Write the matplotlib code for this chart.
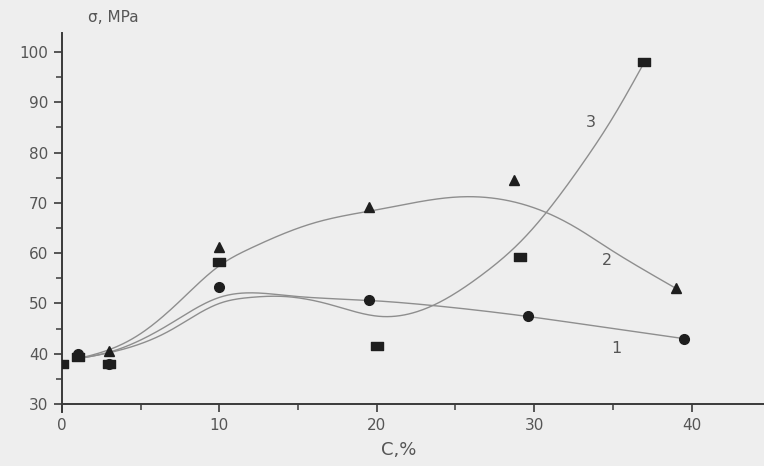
import numpy as np
import matplotlib
matplotlib.use("Agg")
import matplotlib.pyplot as plt
from matplotlib.path import Path
from matplotlib.ticker import MultipleLocator

# ---- measured points ----
s1_x = [1, 3, 10, 19.5, 29.6, 39.5]          # circles (curve 1)
s1_y = [40, 38, 53.3, 50.6, 47.4, 43.0]
s2_x = [3, 10, 19.5, 28.7, 39.0]             # triangles (curve 2)
s2_y = [40.5, 61.3, 69.2, 74.5, 53.0]
s3_x = [0, 1, 3, 10, 20, 29.1, 37.0]         # squares (curve 3)
s3_y = [38, 39.3, 38, 58.3, 41.6, 59.2, 98.0]

# ---- fitted curves ----
c1_x = [1, 3, 6.8, 10, 11.8, 14.5, 19.5, 23.5, 29.6, 35, 39.5]
c1_y = [39, 40.3, 45.8, 51.2, 52.1, 51.5, 50.6, 49.6, 47.4, 45.0, 43.0]
c2_x = [1, 3, 5, 7.5, 10, 12, 16, 20.3, 25.3, 30.6, 32.7, 34.8, 36.9, 39.0]
c2_y = [39, 40.8, 44, 50.5, 57.5, 61, 66.0, 68.8, 71.2, 68.3, 65.0, 60.8, 56.8, 53.0]
c3_x = [1, 3, 6.8, 10, 12, 14, 17, 20.3, 23.5, 26.6, 29.2, 31, 33, 35, 37.0]
c3_y = [39, 40.2, 44.5, 50.0, 51.2, 51.4, 49.8, 47.4, 49.5, 55.5, 62.5, 69.0, 77.5, 87.0, 98.0]

curve_labels = ["1", "2", "3"]
label_x = [35.2, 34.6, 33.6]
label_y = [41.0, 58.6, 86.0]

x_ticks = [0, 10, 20, 30, 40]
y_ticks = [30, 40, 50, 60, 70, 80, 90, 100]


def natural_spline(x, y, xs):
    x = np.asarray(x, float)
    y = np.asarray(y, float)
    n = len(x)
    h = np.diff(x)
    A = np.zeros((n, n))
    b = np.zeros(n)
    A[0, 0] = 1
    A[-1, -1] = 1
    for i in range(1, n - 1):
        A[i, i - 1] = h[i - 1]
        A[i, i] = 2 * (h[i - 1] + h[i])
        A[i, i + 1] = h[i]
        b[i] = 3 * ((y[i + 1] - y[i]) / h[i] - (y[i] - y[i - 1]) / h[i - 1])
    c = np.linalg.solve(A, b)
    bb = (y[1:] - y[:-1]) / h - h * (2 * c[:-1] + c[1:]) / 3
    d = (c[1:] - c[:-1]) / (3 * h)
    idx = np.clip(np.searchsorted(x, xs) - 1, 0, n - 2)
    t = xs - x[idx]
    return y[idx] + bb[idx] * t + c[idx] * t ** 2 + d[idx] * t ** 3


bg = "#eeeeee"
fig = plt.figure(figsize=(7.64, 4.66), dpi=100, facecolor=bg)
ax = fig.add_axes([62 / 764, 53.5 / 466, 702 / 764, 379.5 / 466], facecolor=bg)

line_col = "#8e8e8e"
for cx, cy in [(c1_x, c1_y), (c2_x, c2_y), (c3_x, c3_y)]:
    xs = np.linspace(cx[0], cx[-1], 400)
    ax.plot(xs, natural_spline(cx, cy, xs), color=line_col, lw=1.0, zorder=2)

rect = Path([(-1, -0.6), (1, -0.6), (1, 0.6), (-1, 0.6), (-1, -0.6)],
            [Path.MOVETO, Path.LINETO, Path.LINETO, Path.LINETO, Path.CLOSEPOLY])
mk = "#1e1e1e"
ax.plot(s3_x, s3_y, ls="none", marker=rect, ms=8.5, color=mk, zorder=3)
ax.plot(s1_x, s1_y, ls="none", marker="o", ms=7, color=mk, zorder=3)
ax.plot(s2_x, s2_y, ls="none", marker="^", ms=7.5, color=mk, zorder=3)

txt_col = "#555555"
for lab, lx, ly in zip(curve_labels, label_x, label_y):
    ax.text(lx, ly, lab, fontsize=11.5, color=txt_col, ha="center", va="center")

ax.set_xlim(0, 44.6)
ax.set_ylim(28.3, 103.8)
ax.spines["bottom"].set_position(("data", 30))
ax.set_xticks(x_ticks)
ax.set_yticks(y_ticks)
ax.xaxis.set_minor_locator(MultipleLocator(5))
ax.yaxis.set_minor_locator(MultipleLocator(5))
for s in ["top", "right"]:
    ax.spines[s].set_visible(False)
for s in ["left", "bottom"]:
    ax.spines[s].set_color("#3a3a3a")
    ax.spines[s].set_linewidth(1.4)
ax.tick_params(which="major", length=6, width=1.2, color="#3a3a3a",
               labelsize=11, labelcolor=txt_col, pad=4)
ax.tick_params(which="minor", length=4, width=1.1, color="#3a3a3a")

fig.text(88 / 764, 1 - 18 / 466, "σ, MPa", fontsize=11, color=txt_col,
         ha="left", va="center")
fig.text(399 / 764, 1 - 450 / 466, "C,%", fontsize=13, color=txt_col,
         ha="center", va="center")

fig.savefig("out.png", dpi=100, facecolor=bg)
